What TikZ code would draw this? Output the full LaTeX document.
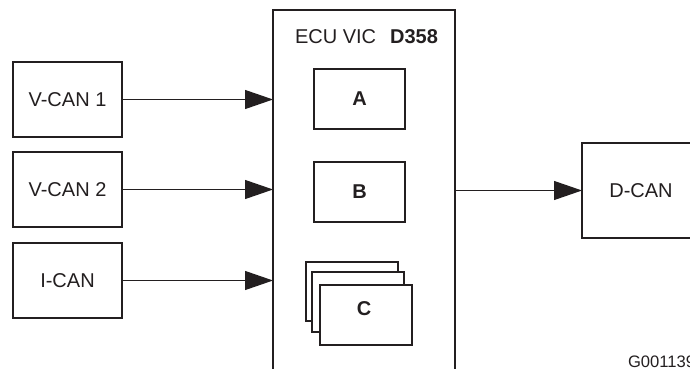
\documentclass[tikz,border=0pt]{standalone}
\usepackage{fontspec}
\setmainfont{Liberation Sans}
\usetikzlibrary{arrows.meta}
\definecolor{ink}{HTML}{231F20}
\begin{document}
\begin{tikzpicture}[x=0.5pt,y=-0.5pt,
  box/.style={draw=ink,line width=1pt,fill=white,inner sep=0pt,outer sep=0pt,
    font=\fontsize{10}{12}\selectfont,text=ink},
  busbox/.style={box,minimum width=54.5pt,minimum height=37.5pt},
  unitbox/.style={box,minimum width=45.5pt,minimum height=30pt,font=\fontsize{10}{12}\selectfont\bfseries},
  stackbox/.style={box,minimum width=46pt,minimum height=30pt},
  conn/.style={draw=ink,line width=0.6pt,-{Triangle[length=14pt,width=9.5pt]}},
  lbl/.style={inner sep=0pt,outer sep=0pt,text=ink}]
\useasboundingbox (0,0) rectangle (690,369);
\clip (0,0) rectangle (690,369);

% ECU frame (open at the bottom)
\node[draw=none,inner sep=0pt,outer sep=0pt,minimum width=91pt,minimum height=195pt] (ecu) at (364,205) {};
\draw[ink,line width=1pt] (ecu.south west) -- (ecu.north west) -- (ecu.north east) -- (ecu.south east);
\node[lbl,font=\fontsize{10}{12}\selectfont] (title) at (366.5,37) {ECU VIC\hspace{7pt}\textbf{D358}};

% inner units
\node[unitbox] (a) at (359.5,99) {A};
\node[unitbox] (b) at (359.5,192) {B};
\node[stackbox,minimum height=29.5pt] (c3) at (352,291.5) {};
\node[stackbox] (c2) at (358,302) {};
\node[stackbox] (c1) at (366,315) {};
\node[lbl,font=\fontsize{10}{12}\selectfont\bfseries] (clab) at (364,309) {C};

% input buses
\node[busbox] (v1) at (67.5,99.5) {V-CAN 1};
\node[busbox] (v2) at (67.5,189.5) {V-CAN 2};
\node[busbox] (ic) at (67.5,280.5) {I-CAN};

% output bus
\node[box,minimum width=59pt,minimum height=47.5pt] (dcan) at (641,190.5) {D-CAN};

% connectors
\draw[conn] (v1.east) -- (v1.east -| ecu.west);
\draw[conn] (v2.east) -- (v2.east -| ecu.west);
\draw[conn] (ic.east) -- (ic.east -| ecu.west);
\draw[conn] (dcan.west -| ecu.east) -- (dcan.west);

% figure code
\node[lbl,anchor=base west,font=\fontsize{8.3}{10}\selectfont] (code) at (628,367) {G001139};
\end{tikzpicture}
\end{document}
